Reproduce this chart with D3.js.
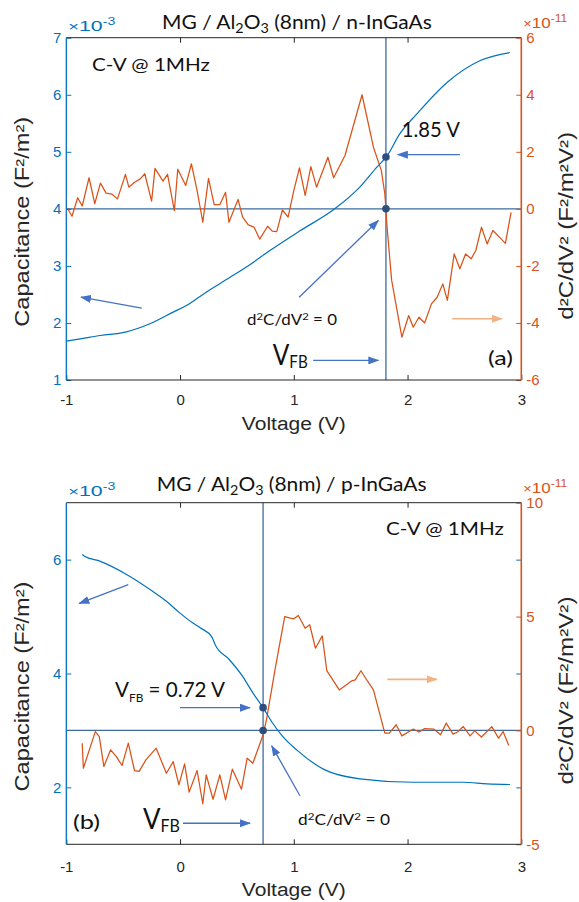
<!DOCTYPE html>
<html><head><meta charset="utf-8">
<script src="https://cdn.jsdelivr.net/npm/d3@7"></script>
<style>body{margin:0;background:#fff}svg{display:block}</style>
</head><body><svg id="c" width="579" height="902"></svg>
<script>
// ---------------- DATA ----------------
const voltageTicks = [-1, 0, 1, 2, 3];
const capTicksA = [1, 2, 3, 4, 5, 6, 7];
const d2TicksA = [-6, -4, -2, 0, 2, 4, 6];
const capTicksB = [2, 4, 6];
const d2TicksB = [-5, 0, 5, 10];

// (a) n-InGaAs : capacitance (x1e-3 F/m2) vs voltage
const cvA_V = [-1.00,-0.85,-0.70,-0.48,-0.26,-0.06,0.06,0.23,0.44,0.62,0.79,1.05,1.36,1.58,1.73,1.82,1.93,2.08,2.35,2.64,2.90];
const cvA_C = [1.68,1.73,1.78,1.84,1.99,2.19,2.31,2.54,2.80,3.03,3.27,3.61,4.00,4.38,4.73,4.93,5.31,5.66,6.22,6.60,6.74];
// (a) d2C/dV2 (x1e-11)
const d2A_V = [-0.99,-0.95,-0.90,-0.86,-0.80,-0.75,-0.70,-0.65,-0.60,-0.55,-0.48,-0.45,-0.40,-0.35,-0.31,-0.25,-0.22,-0.15,-0.11,-0.05,-0.02,0.05,0.10,0.15,0.20,0.25,0.30,0.35,0.40,0.43,0.51,0.55,0.60,0.65,0.70,0.77,0.81,0.85,0.90,0.95,1.00,1.05,1.10,1.15,1.20,1.30,1.35,1.45,1.60,1.70,1.77,1.80,1.81,1.82,1.86,1.95,2.01,2.05,2.10,2.15,2.21,2.26,2.31,2.35,2.41,2.46,2.51,2.56,2.60,2.65,2.70,2.75,2.81,2.86,2.91];
const d2A_Y = [0.02,-0.26,0.39,0.10,1.09,0.18,0.90,0.55,0.52,0.35,1.21,0.76,0.93,1.05,1.23,0.27,1.42,0.97,1.21,-0.06,1.39,0.82,1.58,0.64,-0.47,1.07,0.15,0.15,0.58,-0.47,0.33,-0.29,-0.56,-0.64,-1.06,-0.61,-0.78,-0.80,-0.04,-0.29,0.64,1.44,0.47,1.48,0.76,1.81,1.09,1.87,4.00,2.16,1.34,0.53,0.00,-0.64,-2.50,-4.50,-3.74,-4.15,-3.80,-4.00,-3.33,-3.10,-2.63,-3.21,-1.58,-2.10,-1.58,-1.75,-1.46,-0.64,-1.23,-0.76,-1.00,-1.21,-0.12];

// (b) p-InGaAs
const cvB_V = [-0.86,-0.84,-0.70,-0.47,-0.26,-0.12,0.00,0.11,0.18,0.28,0.31,0.43,0.55,0.64,0.73,0.81,0.90,1.03,1.26,1.58,2.05,2.49,2.70,2.90];
const cvB_C = [6.09,6.06,5.97,5.74,5.47,5.27,5.06,4.89,4.80,4.64,4.50,4.25,3.95,3.66,3.40,3.14,2.90,2.65,2.32,2.15,2.09,2.09,2.06,2.05];
const d2B_V = [-0.86,-0.85,-0.745,-0.71,-0.67,-0.61,-0.56,-0.51,-0.455,-0.40,-0.36,-0.30,-0.21,-0.12,-0.06,-0.01,0.04,0.08,0.15,0.20,0.23,0.29,0.35,0.40,0.46,0.54,0.59,0.64,0.73,0.76,0.84,0.92,0.97,1.00,1.04,1.10,1.14,1.19,1.25,1.29,1.40,1.51,1.54,1.59,1.65,1.70,1.80,1.84,1.90,1.95,2.05,2.10,2.15,2.23,2.29,2.34,2.40,2.44,2.49,2.55,2.59,2.65,2.74,2.80,2.84,2.89];
const d2B_Y = [-0.56,-1.66,-0.05,-0.27,-1.58,-0.85,-1.15,-1.54,-0.56,-1.77,-1.80,-1.29,-0.78,-1.88,-1.37,-2.39,-1.47,-2.71,-1.76,-3.22,-1.95,-3.02,-1.95,-3.05,-1.70,-2.58,-1.22,-1.44,-0.19,0.47,2.81,5.00,4.93,4.90,5.05,4.49,4.64,3.61,4.15,2.63,1.78,2.18,2.22,2.62,2.15,1.78,-0.12,-0.12,0.25,-0.24,0.06,-0.07,0.08,0.06,-0.19,0.32,-0.16,-0.07,0.17,-0.24,-0.02,-0.29,0.17,-0.34,-0.05,-0.66];

// flat-band voltages and marked capacitance points
const vfbA = 1.81, vfbB = 0.73;
const dotsA_C = [4.91, 4.0];
const dotsB_C = [3.40, 3.0];

// ---------------- STYLE ----------------
const BLUE = "#0072BD", ORANGE = "#D95319", AXC = "#262626";
const GUIDE = "#3E6A9E", ARROW = "#4472C4", DOT = "#2C4F80", PEACH = "#F4B183";
const SANS = "'Liberation Sans', Arial, sans-serif";
const CAL = "Lato, 'Open Sans', sans-serif";

const svg = d3.select("#c");
const defs = svg.append("defs");
function marker(id, color) {
  defs.append("marker").attr("id", id).attr("markerUnits", "userSpaceOnUse")
    .attr("markerWidth", 11).attr("markerHeight", 8).attr("refX", 10).attr("refY", 4)
    .attr("orient", "auto")
    .append("path").attr("d", "M0,0 L11,4 L0,8 Z").attr("fill", color);
}
marker("ahBlue", ARROW); marker("ahPeach", PEACH);

function label(g, o) {
  const t = g.append("text").attr("font-size", o.size).attr("font-family", o.family || CAL)
    .attr("fill", o.color || "#111").attr("text-anchor", o.anchor || "start");
  let shift = 0;
  o.parts.forEach(p => {
    const q = typeof p === "string" ? { t: p } : p;
    const ts = t.append("tspan").text(q.t);
    let target = 0, fs = null;
    if (q.sub) { target = q.dy != null ? q.dy : o.size * 0.28; fs = q.fs || o.size * 0.7; }
    if (q.sup) { target = q.dy != null ? q.dy : -o.size * 0.38; fs = q.fs || o.size * 0.7; }
    if (q.fs && !q.sub && !q.sup) fs = q.fs;
    ts.attr("dy", target - shift); shift = target;
    if (fs) ts.attr("font-size", fs);
  });
  let sx = 1;
  if (o.width) { const w = t.node().getComputedTextLength(); if (w > 0) sx = o.width / w; }
  t.attr("transform", `translate(${o.x},${o.y})${o.rotate ? ` rotate(${o.rotate})` : ""} scale(${sx},1)`);
  return t;
}

function drawPanel(cfg) {
  const g = svg.append("g");
  const x = d3.scaleLinear().domain([-1, 3]).range([66.3, 521.3]);
  const yL = d3.scaleLinear().domain([1, 7]).range([cfg.bottom, cfg.top]);
  const yR = d3.scaleLinear().domain(cfg.d2Domain).range([cfg.bottom, cfg.top]);
  const [x0, x1] = x.range();

  // guide lines
  g.append("line").attr("x1", x(cfg.vfb)).attr("x2", x(cfg.vfb)).attr("y1", cfg.top).attr("y2", cfg.bottom)
    .attr("stroke", GUIDE).attr("stroke-width", 1.3);
  g.append("line").attr("x1", x0).attr("x2", x1).attr("y1", yR(0)).attr("y2", yR(0))
    .attr("stroke", GUIDE).attr("stroke-width", 1.3);

  // curves
  const lineL = d3.line().curve(d3.curveMonotoneX).x(d => x(d[0])).y(d => yL(d[1]));
  const lineR = d3.line().x(d => x(d[0])).y(d => yR(d[1]));
  g.append("path").datum(d3.zip(cfg.d2V, cfg.d2Y)).attr("d", lineR)
    .attr("fill", "none").attr("stroke", ORANGE).attr("stroke-width", 1.25).attr("stroke-linejoin", "round");
  g.append("path").datum(d3.zip(cfg.cvV, cfg.cvC)).attr("d", lineL)
    .attr("fill", "none").attr("stroke", BLUE).attr("stroke-width", 1.2).attr("stroke-linejoin", "round");

  // dots
  g.selectAll("circle.dot").data(cfg.dots).join("circle").attr("class", "dot")
    .attr("cx", x(cfg.vfb)).attr("cy", d => yL(d)).attr("r", 3.8).attr("fill", DOT);

  // axes
  const styleAx = (sel, color, labelColor) => {
    sel.select(".domain").remove();
    sel.selectAll(".tick line").attr("stroke", color).attr("stroke-width", 1);
    sel.selectAll(".tick text").attr("fill", labelColor).attr("font-size", 15).attr("font-family", SANS);
  };
  g.append("g").attr("transform", `translate(0,${cfg.bottom})`)
    .call(d3.axisBottom(x).tickValues(voltageTicks).tickSize(-5).tickPadding(cfg.xPad).tickFormat(d => String(d)))
    .call(s => styleAx(s, AXC, AXC));
  g.append("g").attr("transform", `translate(0,${cfg.top})`)
    .call(d3.axisTop(x).tickValues([0, 1, 2]).tickSize(-5).tickFormat(""))
    .call(s => styleAx(s, AXC, AXC));
  g.append("g").attr("transform", `translate(${x0},0)`)
    .call(d3.axisLeft(yL).tickValues(cfg.capTicks).tickSize(-5).tickPadding(5).tickFormat(d => String(d)))
    .call(s => styleAx(s, BLUE, BLUE));
  if (cfg.rightBlueTicks) {
    g.append("g").attr("transform", `translate(${x1},0)`)
      .call(d3.axisRight(yL).tickValues(cfg.capTicks).tickSize(-5).tickFormat(""))
      .call(s => styleAx(s, BLUE, BLUE));
  }
  g.append("g").attr("transform", `translate(${x1},0)`)
    .call(d3.axisRight(yR).tickValues(cfg.d2Ticks).tickSize(-5).tickPadding(5).tickFormat(d => String(d)))
    .call(s => styleAx(s, ORANGE, ORANGE));

  // frame
  g.append("line").attr("x1", x0).attr("x2", x1).attr("y1", cfg.top).attr("y2", cfg.top).attr("stroke", AXC).attr("stroke-width", 1);
  g.append("line").attr("x1", x0).attr("x2", x1).attr("y1", cfg.bottom).attr("y2", cfg.bottom).attr("stroke", AXC).attr("stroke-width", 1);
  g.append("line").attr("x1", x0).attr("x2", x0).attr("y1", cfg.top).attr("y2", cfg.bottom).attr("stroke", BLUE).attr("stroke-width", 1.3);
  g.append("line").attr("x1", x1).attr("x2", x1).attr("y1", cfg.top).attr("y2", cfg.bottom).attr("stroke", ORANGE).attr("stroke-width", 1.6);

  // exponent labels
  label(g, { x: x0 + 2, y: cfg.top - 7, size: 15, family: SANS, color: BLUE,
    parts: [{ t: "×", fs: 13 }, "10", { t: "-3", sup: true, fs: 10, dy: -6 }], width: 47 });
  label(g, { x: x1 + 2, y: cfg.top - 10, size: 14, family: SANS, color: ORANGE,
    parts: [{ t: "×", fs: 12 }, "10", { t: "-11", sup: true, fs: 10, dy: -6 }], width: 44 });

  // title
  label(g, { x: cfg.titleX, y: cfg.titleY, size: 19, color: "#111",
    parts: ["MG / Al", { t: "2", sub: true, fs: 13, dy: 4 }, "O", { t: "3", sub: true, fs: 13, dy: 4 }, " (8nm) / " + cfg.substrate], width: 270 });

  // axis titles
  label(g, { x: 293.8, y: cfg.xLabelY, size: 19, family: SANS, color: AXC, anchor: "middle", parts: ["Voltage (V)"], width: 104 });
  label(g, { x: 29, y: (cfg.top + cfg.bottom) / 2 + 13, size: 20, family: SANS, color: AXC, anchor: "middle", rotate: -90,
    parts: ["Capacitance (F²/m²)"], width: 210 });
  label(g, { x: 573, y: (cfg.top + cfg.bottom) / 2 + 17, size: 20, family: SANS, color: AXC, anchor: "middle", rotate: -90,
    parts: ["d²C/dV² (F²/m²V²)"], width: 188 });

  // annotations (in data coordinates)
  const A = cfg.ann;
  const arrow = (a, color, id, w) => g.append("line")
    .attr("x1", x(a[0])).attr("y1", yL(a[1])).attr("x2", x(a[2])).attr("y2", yL(a[3]))
    .attr("stroke", color).attr("stroke-width", w || 1.3).attr("marker-end", `url(#${id})`);
  A.arrows.forEach(a => arrow(a, ARROW, "ahBlue"));
  arrow(A.peach, PEACH, "ahPeach", 1.6);
  A.texts.forEach(t => label(g, Object.assign({}, t, { x: x(t.v), y: yL(t.c) })));
}

drawPanel({
  top: 37.7, bottom: 380, d2Domain: [-6, 6], capTicks: capTicksA, d2Ticks: d2TicksA,
  cvV: cvA_V, cvC: cvA_C, d2V: d2A_V, d2Y: d2A_Y, vfb: vfbA, dots: dotsA_C,
  substrate: "n-InGaAs", titleX: 162, titleY: 28.5, xPad: 14, xLabelY: 430, rightBlueTicks: false,
  ann: {
    arrows: [[2.46, 4.95, 1.915, 4.95], [1.047, 2.452, 1.743, 3.795], [1.17, 1.343, 1.743, 1.343], [-0.337, 2.259, -0.871, 2.452]],
    peach: [2.393, 2.074, 2.828, 2.074],
    texts: [
      { v: -0.774, c: 6.41, size: 18, parts: ["C-V @ 1MHz"], width: 118 },
      { v: 1.95, c: 5.254, size: 21, parts: ["1.85 V"], width: 58 },
      { v: 0.589, c: 1.956, size: 15, parts: ["d", { t: "2", sup: true, fs: 10, dy: -5 }, "C/dV", { t: "2", sup: true, fs: 10, dy: -5 }, " = 0"], width: 90 },
      { v: 0.815, c: 1.256, size: 29, parts: ["V", { t: "FB", sub: true, fs: 18, dy: 3 }], width: 35 },
      { v: 2.707, c: 1.256, size: 19, parts: ["(a)"], width: 25 }
    ]
  }
});

drawPanel({
  top: 502.7, bottom: 844.3, d2Domain: [-5, 10], capTicks: capTicksB, d2Ticks: d2TicksB,
  cvV: cvB_V, cvC: cvB_C, d2V: d2B_V, d2Y: d2B_Y, vfb: vfbB, dots: dotsB_C,
  substrate: "p-InGaAs", titleX: 156.7, titleY: 491, xPad: 17, xLabelY: 896, rightBlueTicks: true,
  ann: {
    arrows: [[0.0, 3.40, 0.615, 3.40], [1.054, 1.853, 0.806, 2.729], [0.026, 1.37, 0.615, 1.37], [-0.455, 5.56, -0.886, 5.23]],
    peach: [1.822, 3.897, 2.256, 3.897],
    texts: [
      { v: 1.81, c: 6.436, size: 18, parts: ["C-V @ 1MHz"], width: 118 },
      { v: -0.571, c: 3.581, size: 21, parts: ["V", { t: "FB", sub: true, fs: 12, dy: 5 }, " = 0.72 V"], width: 110 },
      { v: 1.037, c: 1.34, size: 15, parts: ["d", { t: "2", sup: true, fs: 10, dy: -5 }, "C/dV", { t: "2", sup: true, fs: 10, dy: -5 }, " = 0"], width: 92 },
      { v: -0.326, c: 1.27, size: 29, parts: ["V", { t: "FB", sub: true, fs: 18, dy: 3 }], width: 37 },
      { v: -0.941, c: 1.27, size: 19, parts: ["(b)"], width: 27 }
    ]
  }
});
</script></body></html>
